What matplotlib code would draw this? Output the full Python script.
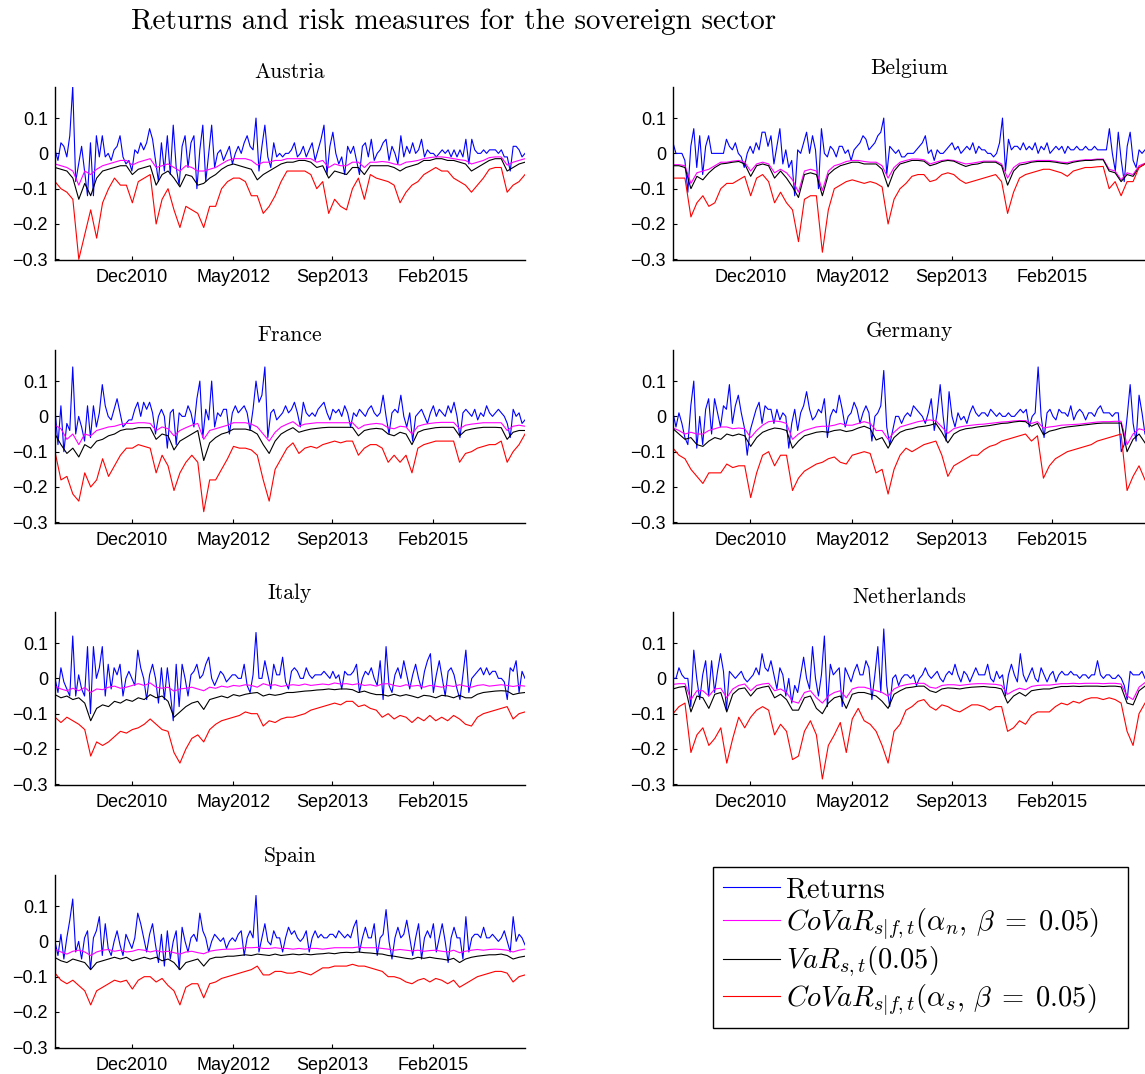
import numpy as np
import pandas as pd
import matplotlib
matplotlib.use("Agg")
import matplotlib.pyplot as plt
import matplotlib.dates as mdates

# Sample window (weekly data, shown evenly spaced) and axis ticks
START, END = "2009-10-30", "2016-06-17"
TICK_DATES = ["2010-12-01", "2012-05-06", "2013-09-29", "2015-02-28"]
YTICKS = [-0.3, -0.2, -0.1, 0.0, 0.1]
YTICK_LABELS = ["\u22120.3", "\u22120.2", "\u22120.1", "0", "0.1"]

COUNTRIES = ["Austria", "Belgium", "France", "Germany", "Italy", "Netherlands", "Spain"]
LABELS = ["Returns",
          r"$CoVaR_{s|f,t}(\alpha_n,\,\beta\;=\;0.05)$",
          r"$VaR_{s,t}(0.05)$",
          r"$CoVaR_{s|f,t}(\alpha_s,\,\beta\;=\;0.05)$"]

# All values in percent
AUT_RET = [1, -2, 3, 2, -1, 5, 19, -8, -3, 2, -5, -12, 3, -12, 5, -1, 5, -1, 0, -2,
           1, 2, 5, -1, -3, -2, -5, 1, 0, 3, 1, 3, 7, 4, -2, -8, 3, -5, 5, -6,
           8, -4, -9, 2, 5, -4, 3, 5, -10, 1, 8, -8, 0, 8, -4, 0, 1, -2, 0, 2,
           -3, 0, 2, 0, 3, 5, 2, 1, 10, -5, 2, 8, -1, -4, 3, -1, 0, -1, 0, 0,
           1, 3, -1, 0, 2, -1, 1, 3, -2, 1, 4, 8, -6, 2, 6, 0, -3, -1, -6, 2,
           0, 2, -2, -6, 2, 3, -1, 4, -2, 0, 1, 3, 4, -2, 2, 0, -3, 5, -1, 2,
           0, 3, 0, 1, 4, -1, 1, 0, 0, -1, 0, 1, 0, 1, -1, 1, -1, 1, -1, 4,
           -3, 4, 1, 0, 0, 1, 0, 1, 1, 1, 0, 1, -1, -1, -5, 2, 2, 1, -1, 0]
AUT_CVN = [-3, -3.5, -4, -5, -9, -5, -6, -4.5, -3.5, -3, -2.5, -2, -2, -3.3, -2.5, -2, -1.5, -4, -3.5, -3,
           -4, -5, -3.5, -4, -5, -5, -4.5, -4, -3, -2, -1.5, -1.5, -1.5, -2, -3.3, -2.5, -2.5, -2, -2, -1.5,
           -1.5, -1.5, -1.5, -1.5, -2.5, -2, -4, -3, -3.5, -3.5, -2.5, -2.5, -4, -2.5, -2.5, -2.3, -2.5, -3, -3.3, -2.5,
           -2.3, -2, -1.5, -1.2, -1, -1, -1.2, -1.5, -1.8, -2, -3, -2.5, -2, -1.2, -1, -1, -3.3, -2.5, -2, -1.5]
AUT_VAR = [-4, -4.5, -5, -7, -13, -8.5, -12, -7, -5, -4.5, -4, -3.5, -3.5, -6, -4.5, -4, -3.5, -9, -6, -5,
           -7, -9.5, -6, -6.5, -9, -8.5, -7, -6, -4.5, -3.5, -3, -3.5, -4, -4.5, -7.5, -6, -5, -4, -3, -2.5,
           -2.5, -2, -2, -2.5, -4, -3.5, -7, -5, -5.5, -6, -4, -4, -6, -3.5, -3.5, -3.5, -3.5, -4, -5, -4,
           -3.5, -3, -2, -2, -1.5, -1.5, -2, -2, -2.5, -3, -5, -4, -3, -2, -1.5, -1.5, -5, -4, -3, -2.5]
AUT_CVS = [-8, -10, -11, -13, -30, -23, -16, -24, -14, -10, -7, -9, -9, -14, -8, -7, -6, -20, -13, -10,
           -16, -21, -15, -16, -17, -21, -15, -15, -10, -8, -7, -7, -8, -12, -12, -17, -15, -12, -8, -5,
           -5, -5, -5, -6, -10, -8, -17, -13, -15, -16, -10, -7, -13, -6, -7, -7.5, -8, -9, -14, -11,
           -9, -8, -6, -5, -4, -5, -5, -7, -8, -9, -11, -9, -7, -4.5, -4, -4, -11, -9, -8, -6]

BEL_RET = [3, 0, 0, 0, -2, -11, 2, 7, -4, 5, -6, 2, 5, 0, 0, 0, 0, 0, 4, 2,
           1, 3, 0, -1, -4, 0, 2, 0, 3, 1, 6, 6, 2, 5, -3, 2, 7, -3, 1, -4,
           -2, -12, 1, 0, 3, 6, 0, 5, 1, -10, 7, 0, -1, 2, 1, -1, 2, 2, 0, 1,
           -2, 1, 2, 3, 5, 4, 1, 2, 3, 5, 6, 10, -6, 2, 1, 0, 1, -1, -1, 0,
           0, 0, 1, 2, 3, 5, 0, 1, -2, 1, 0, 0, 1, 2, 3, 1, 2, 0, 1, 2,
           1, 3, 0, 2, 1, 1, 0, 0, -1, 0, 3, 10, -5, 4, 1, 2, 2, 1, 3, 1,
           2, 1, 3, 0, 2, 1, 3, 0, 1, 2, 1, 2, 0, 2, 1, 1, 2, 1, 1, 2,
           1, 1, 2, 1, 1, 1, 1, 7, 0, -5, 6, -2, -8, 2, 6, -2, -4, 1, 0, 1]
BEL_CVN = [-3.2, -3.2, -3.5, -8.5, -5.5, -5, -4.5, -3.5, -2.5, -2.5, -2.2, -2, -2.5, -5, -3, -2.5, -3, -5.5, -4.5, -5.5,
           -7.5, -11, -5, -4.5, -5, -10.5, -5, -3.5, -3, -2.3, -2, -2, -2.3, -2.5, -2.5, -3.5, -7, -4, -2.5, -2,
           -1.6, -1.6, -1.8, -3, -2.5, -2, -1.8, -2, -2.5, -3, -2.8, -2.5, -2.2, -2.2, -2.2, -3, -7, -4, -2.8, -2.5,
           -2.2, -2, -2, -2, -2.2, -2.5, -2.6, -2.2, -2, -1.8, -1.8, -1.6, -1.6, -4.5, -5, -7.5, -5.5, -6, -3.5, -2.8]
BEL_VAR = [-3.5, -3.5, -4, -10, -6.5, -7.5, -5.5, -4, -3, -2.8, -2.5, -2.3, -3, -6.5, -3.5, -3, -3.5, -7, -5, -7,
           -9.5, -12.5, -6, -5.5, -6, -12, -6, -4.5, -3.5, -3, -2.5, -2.5, -3, -3, -3, -4.5, -9.5, -5, -3, -2.5,
           -2, -2, -2.2, -3.5, -3, -2.3, -2, -2.2, -3, -3.7, -3.2, -3, -2.5, -2.5, -2.5, -3.5, -9, -5, -3.3, -3,
           -2.5, -2.3, -2.3, -2.3, -2.5, -2.8, -3, -2.5, -2.2, -2, -2, -1.8, -1.8, -5, -5.5, -8, -6, -6.5, -4, -3]
BEL_CVS = [-7, -7, -7, -18, -14, -12, -15, -14, -10, -8.5, -8.5, -7.5, -6.5, -12, -7, -6, -8, -14, -11, -14,
           -16, -25, -13, -12, -12, -28, -16, -10, -9, -8, -7.5, -8, -8.5, -8, -8.5, -9.5, -20, -13, -10, -8.5,
           -6.5, -6, -6, -8, -7.5, -6, -5.5, -6, -7.5, -8.5, -8, -7.5, -7, -6.5, -6, -8, -17, -11, -7, -6,
           -5.5, -5, -4.5, -4.5, -5, -5.5, -6.5, -5, -4.5, -4, -4, -3.8, -3.7, -10, -8, -12, -8, -8, -4, -3]

FRA_RET = [2, -8, 3, -10, -2, -4, 14, -5, 0, -3, -7, 3, -6, 3, -3, 1, 9, 3, 0, -1,
           2, 5, 1, -3, -2, -1, -1, 2, 4, 0, 4, 2, 4, 1, -5, 0, 2, 0, -9, 1,
           2, -8, 1, 0, 0, 3, 1, -3, 5, 10, -6, 2, -1, 10, -3, 1, 0, 2, 2, -5,
           1, 3, 1, 2, 3, 1, -4, 2, 10, 4, 6, 14, -6, 1, 2, -1, 0, 1, 3, 1,
           2, 4, 1, -3, 4, 1, 0, 1, 0, 2, 3, 4, 1, -1, 2, 1, 2, 0, 3, 1,
           -3, 1, 0, 2, 1, 0, 2, 3, 1, 0, 1, 6, 0, -5, 1, 2, 1, 6, 0, -3,
           1, -7, 0, 1, 2, 0, -2, 1, 3, 0, 2, 1, 0, 3, 1, 4, 0, -6, 1, 2,
           1, 0, 2, -1, 1, 0, 3, 1, 0, 1, 2, 1, 0, -2, -6, 2, 0, 1, -2, -1]
FRA_CVN = [-2.5, -3.5, -6.5, -5, -8, -5, -5.5, -4, -3.5, -3, -2.8, -2.3, -2, -2, -1.8, -1.8, -2, -4, -3, -3.5,
           -5.5, -4, -3.2, -2.5, -2, -6.5, -4, -3.5, -3, -2.5, -1.8, -1.8, -1.8, -2.2, -3, -5, -7, -4.5, -3, -2.2,
           -1.5, -2.8, -2.2, -2, -1.8, -1.8, -1.8, -1.8, -1.8, -1.8, -1.8, -3.5, -2.5, -2.2, -2, -2.2, -3.2, -3.5, -2.8, -3,
           -5, -2.8, -2.3, -2, -1.8, -1.7, -1.7, -1.7, -3.5, -2.5, -2.2, -2, -1.8, -1.8, -1.8, -1.8, -4, -2.8, -2.5, -2.8]
FRA_VAR = [-5, -8, -10.5, -9, -11.5, -8, -9, -7, -6.5, -5.5, -5, -4, -3.6, -3.6, -3.2, -3.2, -3.2, -6.5, -5, -5.5,
           -9.5, -7, -6, -5, -4, -12.5, -7.5, -6, -5, -4.5, -3.6, -3.6, -3.6, -4, -5, -8, -10.5, -7, -5, -4,
           -3.2, -4.5, -4, -3.6, -3.4, -3.2, -3.1, -3.1, -3.1, -3.1, -3.1, -5.5, -4, -3.6, -3.4, -3.6, -5, -5.5, -4.5, -5,
           -8, -4.5, -3.8, -3.5, -3.2, -3.1, -3.1, -3.1, -5.5, -4, -3.6, -3.3, -3.1, -3.1, -3.1, -3.2, -6.5, -4.5, -4, -4]
FRA_CVS = [-10, -18, -17, -22, -24, -16, -20, -18, -12, -17, -14, -11, -9, -9, -8, -8.5, -9, -16, -11, -14,
           -21, -16, -13, -11, -13, -27, -18, -18, -15, -12, -8.5, -9, -9, -9.5, -11, -18, -24, -15, -12, -9,
           -7.5, -10.5, -9, -8.5, -9, -8, -7.5, -7, -7.5, -7, -7, -11, -9, -8, -8, -9, -13, -11, -13, -11,
           -16, -9, -8, -7.5, -7, -7, -7, -7, -13, -10.5, -10, -9, -8.5, -8, -8, -7, -13, -10, -8, -5]

DEU_RET = [1, -3, 1, -2, -6, -8, 3, 10, -9, 0, -8, 2, 5, -5, 5, 1, -3, 3, 2, 9,
           -2, 3, 6, 1, -3, -11, -4, -1, 2, 4, -2, 3, 2, 2, -2, 2, -1, 1, 0, -9,
           -2, 2, -4, 1, 3, 7, 2, -1, 0, 2, 1, 5, -6, 0, 2, 1, 6, 2, -3, 0,
           1, 4, 2, -2, 1, 3, 1, -7, 0, 1, 3, 13, -3, -8, -4, 0, 0, -2, 0, 1,
           0, 3, 2, 1, 0, -2, 1, 5, -4, 1, 9, 0, -7, 7, 0, -3, 1, -1, 0, -2,
           1, 3, 1, 0, 1, 1, 0, 2, 1, 0, 1, 0, 0, 1, 0, 0, 1, 2, 1, 2,
           -3, 0, 1, 14, 0, -6, 1, 2, 0, -1, 2, 1, 1, 0, 3, -1, 1, 2, 1, -1,
           1, 1, 0, 2, 3, 1, 1, 1, 0, 1, 1, -10, -8, 0, 9, -2, -7, 6, 1, -5]
DEU_CVN = [-3.3, -4, -5, -4.5, -5, -5, -4, -3.5, -3, -3, -3.5, -3.3, -3.5, -6, -4, -2.5, -1.5, -1.3, -1.5, -2,
           -6.5, -5, -4, -3.5, -3, -2.8, -2.8, -2.5, -2, -2.5, -2.5, -2, -1.5, -2, -4, -4, -6.5, -4.5, -3, -2.5,
           -2, -1.5, -1.2, -1, -1.3, -3, -4.8, -3.5, -3, -2.7, -2.5, -2.3, -2.2, -2, -1.8, -1.6, -1.5, -1.3, -1.2, -1.2,
           -2, -1.5, -3.3, -3, -2.8, -2.5, -2.4, -2.3, -2.2, -2, -1.8, -1.6, -1.5, -1.5, -1.4, -1.4, -8, -5, -3.5, -4]
DEU_VAR = [-3.5, -5, -6.5, -6, -8, -8.5, -7, -6, -6.5, -5, -5.5, -5, -5.5, -8.5, -6, -4.5, -3.8, -3.3, -3.5, -4,
           -9, -7, -5.5, -5, -4.5, -4.3, -4.5, -4, -3.8, -4.3, -4, -3.3, -2.8, -3.5, -6.7, -6, -9, -6, -4.5, -3.8,
           -3.5, -3, -2.8, -2.5, -2, -4.5, -7.5, -5, -4, -3.5, -3.3, -3, -2.8, -2.6, -2.3, -2, -1.9, -1.6, -1.4, -1.5,
           -2.8, -2, -5.2, -4.2, -3.8, -3.3, -3, -2.8, -2.6, -2.4, -2.2, -2, -1.9, -1.9, -1.9, -1.9, -10, -6.5, -5, -7.5]
DEU_CVS = [-9, -11, -12, -15, -17, -19, -16, -16, -16, -13.5, -14.5, -14, -14, -23, -16, -11, -10, -14, -11, -11,
           -21, -17.5, -15.5, -14.5, -13.5, -13, -12, -11.5, -13, -13.5, -11, -10.5, -10, -10.5, -16, -15, -22, -15, -11, -9,
           -10, -9, -8, -7.5, -7, -11, -17, -14, -13, -12, -11, -11, -9.5, -8.5, -8, -7, -6.5, -6, -5.5, -5,
           -7, -5.5, -17.5, -14, -12, -11, -10, -9.5, -9, -8.5, -8, -7, -6.5, -6, -5.5, -5, -21, -17, -14, -18]

ITA_RET = [0, -4, 3, -1, -3, -5, 12, -5, 1, -3, -5, 9, -10, 9, 0, 3, 9, -5, 4, -3,
           3, 1, 4, -5, 0, 2, 0, -2, 8, 3, 0, -6, 1, 4, 0, -7, 3, -6, 3, -4,
           -12, 4, -8, 4, 0, -5, 1, 2, 4, 0, 1, 4, 6, 0, -2, 0, 2, 1, -1, 0,
           1, 1, 0, 0, 4, -2, -4, 1, 13, 0, 0, 5, 1, -3, 4, 1, 1, 6, -1, -3,
           2, 3, 2, 0, 0, 3, 1, 0, 1, 1, 1, 2, 1, 0, 2, 0, 1, -3, 2, 1,
           1, 2, 4, -4, 0, 2, 1, 3, 0, -2, 5, -6, 9, -2, -4, 1, 3, 0, 5, 1,
           -3, 1, 4, 0, -3, 2, 5, 7, -4, 1, 5, 0, -5, 2, 3, 1, -3, -6, 1, 8,
           -4, 0, 1, 2, 3, 1, 3, 1, 2, 2, 0, 0, -1, -6, 3, 2, 5, -4, 2, 0]
ITA_CVN = [-2.2, -3, -3.5, -2.8, -3.5, -2.6, -4, -3, -3.2, -2.5, -2.2, -2.8, -2.5, -2, -1.5, -2, -1.3, -2.5, -2.8, -2.5,
           -3.6, -3, -2.8, -2.5, -3, -3.5, -2.5, -2.8, -2.2, -2.5, -2, -2.2, -1.8, -2, -2.5, -1.5, -2, -1.8, -2.3, -2,
           -1.8, -2, -1.6, -2, -1.8, -1.6, -1.8, -1.3, -1.6, -1.5, -1.8, -1.5, -2, -1.8, -2.2, -1.6, -1.5, -2, -2.3, -1.8,
           -2.2, -2, -2.5, -2, -2.2, -2.5, -2, -2.3, -1.8, -2.2, -2.5, -2, -1.8, -2.2, -2, -1.8, -2, -2.3, -2, -2.2]
ITA_VAR = [-4.6, -5.5, -5, -6, -5.5, -7, -12, -8.5, -7.5, -8, -6.5, -7, -6, -6.5, -5.5, -6, -4.6, -5.5, -5, -6.5,
           -11, -9.5, -8, -7, -6.5, -8.8, -6, -5.5, -5, -5.5, -4.6, -5, -4.5, -4.2, -4, -5, -4.5, -4.8, -4.5, -4,
           -4, -3.8, -3.6, -3.5, -3.3, -3.2, -3, -3.2, -3, -3, -3.2, -4, -3.6, -4.2, -4.6, -4.6, -5, -4.5, -5, -4.6,
           -5, -5.5, -4.8, -5, -5.5, -4.8, -5, -5.5, -4.8, -5.5, -5.5, -4.5, -4, -3.8, -3.6, -3.5, -3.6, -4.6, -4.2, -4]
ITA_CVS = [-11, -12.5, -11, -12, -13, -14.5, -22, -18, -19, -18, -16.5, -15, -15.5, -14.5, -14, -13, -11.5, -13, -14.5, -15,
           -21, -24, -20, -17, -16, -18, -14.5, -13, -12, -11.5, -11, -10.5, -9.5, -10, -10, -13.5, -12, -12.5, -11.5, -11,
           -11, -10.5, -10, -9, -8.5, -8, -7.5, -7, -7.5, -6.5, -6.5, -8, -7.5, -8.5, -9, -11, -10, -11.5, -10.5, -11,
           -12.5, -11, -12, -10.5, -12, -11, -12, -10.5, -11.5, -13, -13.5, -11, -10, -9.5, -9, -8.5, -8, -11.5, -10, -9.5]

NLD_RET = [0, 0, 3, 1, 0, 0, -8, 8, 0, -6, 1, 5, -5, 5, -4, 2, 7, 2, -9, 2,
           1, 0, 1, 2, 0, -1, 0, 1, 3, 1, 7, 3, 2, 5, 1, -3, 3, 1, -5, 0,
           -7, -2, -4, 1, 6, 0, -3, 9, 0, -5, 1, 12, -8, 4, 1, 2, 3, -8, 3, 1,
           -1, 2, 4, 1, 1, 5, 3, -6, 1, 9, -4, 14, -2, -8, 0, 1, -2, 0, 1, 1,
           0, 1, -2, 0, 1, 3, 1, 0, 1, 2, 0, -1, 1, 2, 1, 4, 1, -1, 2, 1,
           -1, 1, 3, 1, 1, 1, 4, 0, -1, 2, 0, 1, -5, 1, 4, 1, -1, 7, 1, -1,
           1, 3, 0, -1, 3, 1, -1, 1, 2, -1, 1, 2, 1, 1, 2, 1, 1, 0, 1, 1,
           0, 1, 1, 5, 1, 0, 1, 1, 0, 0, 1, 0, -2, -6, 2, 1, 1, 1, 2, 0]
NLD_CVN = [-1.7, -1.5, -1.5, -6, -3.5, -3.5, -5, -3, -2.8, -5.5, -3, -2, -1.6, -3.5, -2, -1.6, -1.4, -3.5, -3, -4,
           -6.5, -7, -4, -3.5, -5.5, -7, -5, -4, -3.5, -5.5, -3, -2.5, -2.5, -3, -3.5, -4, -5, -3, -2.2, -1.8,
           -1.5, -1.4, -1.4, -2.5, -2.8, -2, -1.8, -1.8, -2, -1.8, -1.6, -1.5, -1.5, -1.6, -1.7, -2, -4.5, -3.5, -2.8, -3.2,
           -2.3, -2, -1.9, -1.9, -1.7, -1.5, -1.5, -1.4, -1.5, -1.4, -1.4, -1.4, -1.5, -1.4, -1.4, -1.6, -5, -6, -2.5, -1.2]
NLD_VAR = [-3, -2.5, -2.3, -9.5, -5, -5.5, -8.5, -4.5, -4, -9.5, -4.5, -3, -2.7, -5, -3, -2.5, -2.2, -5.5, -4.5, -6,
           -9, -9, -5.5, -5, -8.5, -10, -7, -5.5, -5, -8.5, -4.5, -4, -4, -4.5, -5, -6.5, -8.5, -4.5, -3.5, -2.7,
           -2.5, -2.2, -2.2, -3.5, -4, -3, -2.7, -2.8, -3, -2.7, -2.5, -2.4, -2.3, -2.5, -2.6, -3, -7, -5, -4, -5,
           -3.5, -3.2, -3, -3, -2.6, -2.3, -2.3, -2.2, -2.3, -2.2, -2.2, -2.2, -2.3, -2.2, -2.2, -2.4, -7, -7.5, -3.5, -2.2]
NLD_CVS = [-10, -8, -7, -21, -16, -14, -19, -17, -14, -24, -17, -11, -14, -11, -9, -8, -9, -16, -13, -15,
           -23, -22, -15, -12, -16, -28.5, -19, -16, -12.5, -21, -11.5, -8.5, -12, -13, -15, -19, -24, -15, -13, -9,
           -8, -6.5, -6, -8, -9, -7.5, -8, -9, -9.5, -8.5, -7.5, -7.5, -8, -9, -8, -8, -15, -14, -12, -13,
           -10.5, -9.5, -9.5, -9.5, -8, -7, -7.5, -6.5, -7, -6, -5.5, -5.5, -6, -5.5, -6, -7, -15, -19, -10, -7]

ESP_RET = [0, -4, 2, -5, 1, 6, 12, -3, 0, -5, 1, 3, -8, 1, 3, 7, -4, 5, -2, -4,
           0, 3, -1, -4, 2, 0, -2, 1, 8, 5, 1, -3, 2, 5, -1, -6, 2, -7, 3, -5,
           0, 3, -8, 4, 0, -3, 1, 2, 0, 8, 3, 1, -3, 0, 2, 1, 0, 1, -2, 0,
           1, 0, 2, 3, -4, 1, 3, 1, 13, -3, 1, 5, 0, -1, 3, 1, 1, -3, 1, 4,
           2, 3, 1, 0, 1, 3, -3, 1, 3, 1, 2, 1, 1, 2, 2, 1, 3, 2, 1, 2,
           1, 4, 6, -3, 1, 4, 1, 1, 5, -4, 1, 2, 9, 0, -5, 1, 4, 1, 2, 6,
           1, -4, 1, 5, -5, 1, 3, 1, 5, -3, 1, 5, 0, -6, 1, 4, 1, 1, -5, 7,
           -3, 1, 2, 2, 1, 4, 1, 1, 2, 1, 0, 1, 3, 0, -3, 7, 0, 2, 1, -1]
ESP_CVN = [-2.2, -3, -3.6, -2.8, -2.5, -3, -4, -3, -2.5, -2.3, -2.8, -2.5, -3, -2.8, -2.3, -2.5, -3, -2.6, -3, -2.8,
           -3.2, -3.6, -3, -2.8, -3.2, -3.5, -2.8, -2.5, -2.3, -2.2, -2.2, -2, -1.8, -1.8, -1.7, -2, -2, -1.8, -2, -2,
           -2.2, -2, -2.2, -2, -2, -2.2, -2, -1.8, -1.8, -1.8, -1.8, -1.6, -1.8, -1.8, -1.8, -2, -2.2, -2.5, -2.3, -2.5,
           -2.7, -2.5, -2.8, -2.6, -2.5, -2.8, -3, -2.5, -3.2, -2.8, -2.5, -2.3, -2.5, -2.3, -2.2, -2.3, -2.5, -3, -2.5, -2.2]
ESP_VAR = [-4.6, -5.5, -6, -5, -5.5, -6, -8, -6, -5.5, -5, -4.5, -5, -4.5, -5.5, -5, -4.5, -5, -4.5, -5.5, -5,
           -6, -8, -6, -5.5, -5, -7, -5, -4.5, -4.5, -4.2, -4.2, -4, -3.8, -4, -3.6, -3.8, -4, -3.6, -4, -3.8,
           -3.6, -3.8, -3.6, -3.8, -3.6, -3.5, -3.3, -3.5, -3.2, -3.1, -3.2, -3, -3.2, -3.3, -3.5, -3.6, -4, -4.2, -4.5, -4.8,
           -5, -4.5, -4.8, -4.5, -4.8, -5, -5.3, -4.8, -6, -5, -4.5, -4.2, -4, -3.8, -3.8, -3.6, -4, -5, -4.5, -4.2]
ESP_CVS = [-9, -11, -12, -11, -12.5, -14, -18, -14, -13, -12, -11, -11.5, -11, -13.5, -11, -10, -10, -11.5, -10.5, -12.5,
           -14, -18, -13, -12, -12, -16, -12, -11.5, -10.5, -10, -9.5, -9, -8.5, -8, -7, -9.5, -9.5, -8.5, -8.5, -9,
           -9, -8.5, -9, -9.5, -8.5, -7.5, -7.5, -7, -7, -7, -6.5, -7, -7, -7.5, -8, -8.5, -10, -10, -10.5, -11.5,
           -12, -11, -10.5, -11.5, -10.5, -11, -12, -11, -13, -12, -11, -10, -9.5, -9, -8.5, -8.5, -9, -11.5, -10, -9.5]

SERIES = {
    "Austria": (AUT_RET, AUT_CVN, AUT_VAR, AUT_CVS),
    "Belgium": (BEL_RET, BEL_CVN, BEL_VAR, BEL_CVS),
    "France": (FRA_RET, FRA_CVN, FRA_VAR, FRA_CVS),
    "Germany": (DEU_RET, DEU_CVN, DEU_VAR, DEU_CVS),
    "Italy": (ITA_RET, ITA_CVN, ITA_VAR, ITA_CVS),
    "Netherlands": (NLD_RET, NLD_CVN, NLD_VAR, NLD_CVS),
    "Spain": (ESP_RET, ESP_CVN, ESP_VAR, ESP_CVS),
}
COLORS = ["#0000ff", "#ff00ff", "#000000", "#ff0000"]

plt.rcParams["mathtext.fontset"] = "cm"
plt.rcParams["font.family"] = ["Liberation Sans", "DejaVu Sans"]

W, H = 1145, 1074
fig = plt.figure(figsize=(W / 100, H / 100), dpi=100)

# axes layout in pixels
COL_LEFT = [55, 673]
COL_WIDTH = [470, 472]
ROW_TOP = [87, 350, 612, 875]
AX_H = 173

tick_dates = pd.to_datetime(TICK_DATES)
lines = []
for k, name in enumerate(COUNTRIES):
    r, c = divmod(k, 2)
    ax = fig.add_axes([COL_LEFT[c] / W, 1 - (ROW_TOP[r] + AX_H) / H,
                       COL_WIDTH[c] / W, AX_H / H])
    lines = []
    for vals, col in zip(SERIES[name], COLORS):
        x = pd.date_range(START, END, periods=len(vals))
        ln, = ax.plot(x, np.array(vals) / 100.0, color=col, lw=0.8)
        lines.append(ln)
    ax.set_xlim(pd.Timestamp(START), pd.Timestamp(END))
    ax.set_ylim(-0.302, 0.188)
    ax.set_xticks(tick_dates)
    ax.xaxis.set_major_formatter(mdates.DateFormatter("%b%Y"))
    ax.set_yticks(YTICKS)
    ax.set_yticklabels(YTICK_LABELS)
    ax.tick_params(direction="in", length=3, width=0.8, labelsize=13)
    ax.tick_params(axis="x", pad=6.5)
    ax.tick_params(axis="y", pad=5)
    ax.spines["top"].set_visible(False)
    ax.spines["right"].set_visible(False)
    for s in ("left", "bottom"):
        ax.spines[s].set_linewidth(1.0)
    # descenders push MATLAB titles up a little
    pad = 9.5 if any(ch in "gjpqy" for ch in name) else 6.5
    ax.set_title(name, fontfamily="cmr10", fontsize=15.5, pad=pad)

fig.text(454 / W, 1 - 22 / H, "Returns and risk measures for the sovereign sector",
         fontfamily="cmr10", fontsize=21, ha="center", va="center")

leg = fig.legend(lines, LABELS, loc="upper left",
                 bbox_to_anchor=(713 / W, 1 - 1028 / H, 415 / W, 161 / H),
                 mode="expand", borderaxespad=0,
                 prop={"family": "cmr10", "size": 20.5},
                 handlelength=2.0, handletextpad=0.2, labelspacing=0.1,
                 borderpad=0.35, fancybox=False, framealpha=1, edgecolor="black")
leg.get_frame().set_linewidth(1.0)

fig.savefig("out.png", dpi=100)
